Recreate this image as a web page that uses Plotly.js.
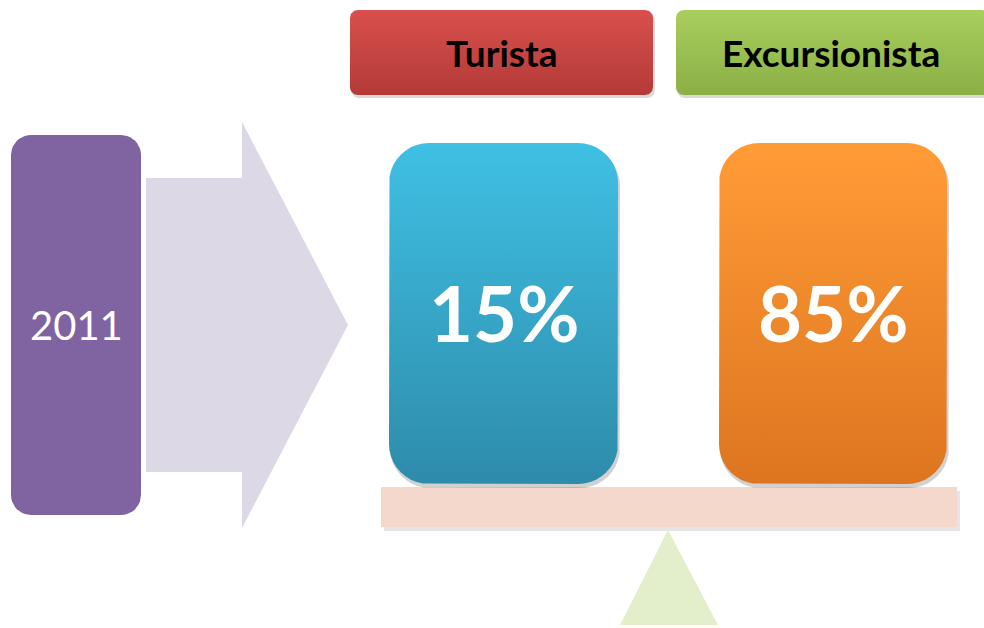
<!DOCTYPE html>
<html>
<head>
<meta charset="utf-8">
<script src="https://cdn.plot.ly/plotly-3.0.1.min.js"></script>
<style>html,body{margin:0;padding:0;background:#fff;}#chart{width:984px;height:628px;}</style>
</head>
<body>
<div id="chart"></div>
<script>
// ---- data ----
const year = "2011";
const categories = ["Turista", "Excursionista"];
const shares = [15, 85];
const shareLabels = shares.map(v => v + "%");

// ---- styles / layout constants ----
const headerColors = [["#D9504D", "#B33A37"], ["#A9CF5E", "#8BAF45"]];
const boxColors = [["#3FC0E4", "#2E8BAA"], ["#FF9C36", "#DD7520"]];
const headerX = [[350, 653], [676, 990]];
const boxX = [[389, 618], [719, 947]];

function roundRect(x0, y0, x1, y1, r) {
  const xs = [], ys = [];
  const corners = [
    [x1 - r, y0 + r, -Math.PI / 2, 0],
    [x1 - r, y1 - r, 0, Math.PI / 2],
    [x0 + r, y1 - r, Math.PI / 2, Math.PI],
    [x0 + r, y0 + r, Math.PI, 1.5 * Math.PI]
  ];
  corners.forEach(([cx, cy, a0, a1]) => {
    for (let i = 0; i <= 10; i++) {
      const a = a0 + (a1 - a0) * i / 10;
      xs.push(cx + r * Math.cos(a));
      ys.push(cy + r * Math.sin(a));
    }
  });
  xs.push(xs[0]); ys.push(ys[0]);
  return { x: xs, y: ys };
}

function polyTrace(pts, color, opts) {
  return Object.assign({
    type: "scatter", mode: "lines", x: pts.x, y: pts.y,
    fill: "toself", fillcolor: color, line: { width: 0, color: color },
    hoverinfo: "skip", showlegend: false
  }, opts || {});
}

function gradTrace(pts, top, bottom) {
  return {
    type: "scatter", mode: "lines", x: pts.x, y: pts.y,
    fill: "toself", line: { width: 0 },
    fillgradient: { type: "vertical", colorscale: [[0, bottom], [1, top]] },
    hoverinfo: "skip", showlegend: false
  };
}

const traces = [];
const annotations = [];
const fontFam = "Lato, 'Open Sans', sans-serif";

// year box + arrow
traces.push(polyTrace({ x: [146, 242, 242, 348, 242, 242, 146, 146], y: [178, 178, 122, 325, 528, 472, 472, 178] }, "#DCD8E5"));
traces.push(polyTrace(roundRect(11, 135, 141, 515, 20), "#8064A2"));
annotations.push({ x: 76, y: 325, text: year, showarrow: false, font: { family: fontFam, size: 40, color: "#ffffff" } });

// beam + fulcrum
traces.push(polyTrace({ x: [384, 960, 960, 384, 384], y: [491, 491, 531, 531, 491] }, "rgba(0,0,0,0.10)"));
traces.push(polyTrace({ x: [381, 957, 957, 381, 381], y: [487, 487, 527, 527, 487] }, "#F4D8CC"));
traces.push(polyTrace({ x: [668, 718, 620, 668], y: [530, 625, 625, 530] }, "#E3EFCA"));

categories.forEach((cat, i) => {
  const [hx0, hx1] = headerX[i];
  traces.push(polyTrace(roundRect(hx0 + 1, 13, hx1 + 2, 98, 8), "rgba(0,0,0,0.15)"));
  traces.push(gradTrace(roundRect(hx0, 10, hx1, 95, 8), headerColors[i][0], headerColors[i][1]));
  const [bx0, bx1] = boxX[i];
  traces.push(polyTrace(roundRect(bx0 + 1, 146, bx1 + 2, 488, 40), "rgba(0,0,0,0.18)"));
  traces.push(gradTrace(roundRect(bx0, 143, bx1, 484, 40), boxColors[i][0], boxColors[i][1]));
  const labelX = i === 0 ? (hx0 + hx1) / 2 : 831;
  annotations.push({ x: labelX, y: 52, text: "<b>" + cat + "</b>", showarrow: false, font: { family: fontFam, size: 37, color: "#000000" } });
  annotations.push({ x: (bx0 + bx1) / 2, y: 312, text: "<b>" + shareLabels[i] + "</b>", showarrow: false, font: { family: fontFam, size: 76, color: "#ffffff" } });
});

const layout = {
  width: 984, height: 628,
  margin: { l: 0, r: 0, t: 0, b: 0 },
  paper_bgcolor: "#ffffff", plot_bgcolor: "#ffffff",
  xaxis: { range: [0, 984], visible: false, fixedrange: true },
  yaxis: { range: [628, 0], visible: false, fixedrange: true },
  annotations: annotations,
  showlegend: false
};

Plotly.newPlot("chart", traces, layout, { displayModeBar: false, staticPlot: true });
</script>
</body>
</html>
